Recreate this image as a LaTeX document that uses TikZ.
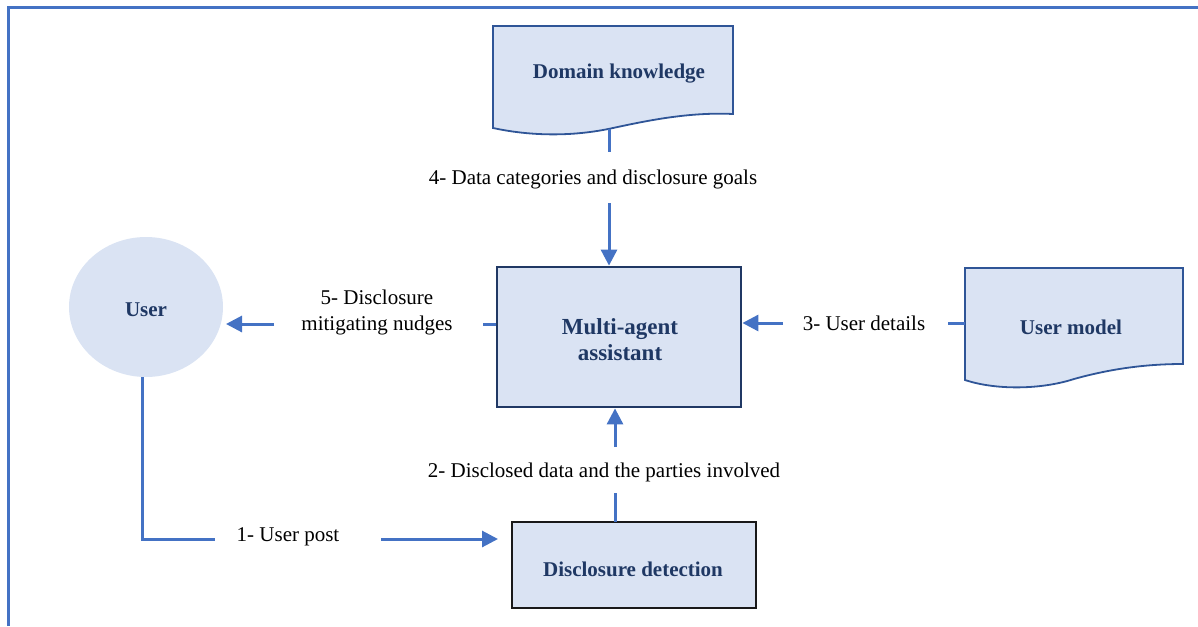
\documentclass[tikz,border=0pt]{standalone}
\usepackage{fontspec}
\setmainfont{Liberation Serif}
\usetikzlibrary{arrows.meta,shapes.geometric}
\definecolor{lblue}{HTML}{DAE3F3}
\definecolor{cblue}{HTML}{4472C4}
\definecolor{dblue}{HTML}{2F5597}
\definecolor{navy}{HTML}{1F3864}
\definecolor{boxnavy}{HTML}{203864}
\tikzset{
  conn/.style={draw=cblue, line width=3pt},
  arr/.style={conn, -{Triangle[length=16pt,width=16pt]}},
  title/.style={font=\fontsize{21}{26}\selectfont\bfseries, text=navy, align=center},
  lbl/.style={font=\fontsize{21}{26}\selectfont, text=black, align=center, inner sep=0pt},
  docshape/.style={fill=lblue, draw=dblue, line width=1.8pt},
}
\begin{document}
\begin{tikzpicture}[x=1pt,y=-1pt]
\useasboundingbox (0,0) rectangle (1198,626);
% frame
\draw[cblue, line width=3pt] (8,626) -- (8,8) -- (1198,8);

% Domain knowledge document
\path[docshape] (493,26) -- (733,26) -- (733,114)
  .. controls (690,112) and (650,120) .. (613,128)
  .. controls (572,137) and (530,136) .. (493,128) -- cycle;
\node[title] (dk) at (619,74) {Domain knowledge};

% User model document
\path[docshape] (965,268) -- (1183,268) -- (1183,364)
  .. controls (1145,364) and (1110,369) .. (1074,379)
  .. controls (1040,390) and (995,390) .. (965,380) -- cycle;
\node[title] (um) at (1071,327) {User model};

% Multi-agent assistant
\node[draw=boxnavy, line width=2.8pt, fill=lblue, minimum width=244pt, minimum height=140pt] (ma) at (619,337) {};
\node[title, font=\fontsize{23}{27}\selectfont\bfseries] (matext) at (620,340) {Multi-agent\\[-1pt]assistant};

% Disclosure detection
\node[draw=black!90, line width=2.4pt, fill=lblue, minimum width=244pt, minimum height=86pt] (dd) at (634,565) {};
\node[title] (ddtext) at (633,569) {Disclosure detection};

% User ellipse
\node[ellipse, fill=lblue, minimum width=154pt, minimum height=140pt, inner sep=0pt] (user) at (146,307) {};
\node[title] (usertext) at (146,310) {User};

% labels
\node[lbl] (l1) at (288,537) {1- User post};
\node[lbl] (l2) at (604,472) {2- Disclosed data and the parties involved};
\node[lbl] (l3) at (864,323) {3- User details};
\node[lbl] (l4) at (593,179) {4- Data categories and disclosure goals};
\node[lbl] (l5) at (377,312) {5- Disclosure\\mitigating nudges};

% coordinates for connector ends
\coordinate (dkb) at (609,129);
\coordinate (a4s) at (609,152);
\coordinate (a4e) at (609,203);
\coordinate (a5s) at (483,324);
\coordinate (a5e) at (274,324);
\coordinate (a5t) at (226,324);
\coordinate (umw) at (965,323);
\coordinate (a3s) at (948,323);
\coordinate (a3e) at (783,323);
\coordinate (ddn) at (615,522);
\coordinate (a2s) at (615,493);
\coordinate (a2e) at (615,447);
\coordinate (ub) at (142,377);
\coordinate (ucorner) at (142,539);
\coordinate (a1s) at (215,539);
\coordinate (a1e) at (381,539);
\coordinate (a1t) at (498,539);

% connector 4
\draw[conn] (dkb) -- (a4s);
\draw[arr] (a4e) -- (a4e |- ma.north);
% connector 5
\draw[conn] (ma.west |- a5s) -- (a5s);
\draw[arr] (a5e) -- (a5t);
% connector 3
\draw[conn] (umw) -- (a3s);
\draw[arr] (a3e) -- (a3e -| ma.east);
% connector 2
\draw[conn] (ddn) -- (a2s);
\draw[arr] (a2e) -- (a2e |- ma.south);
% connector 1
\draw[conn] (ub) -- (ucorner) -- (a1s);
\draw[arr] (a1e) -- (a1t);
\end{tikzpicture}
\end{document}
